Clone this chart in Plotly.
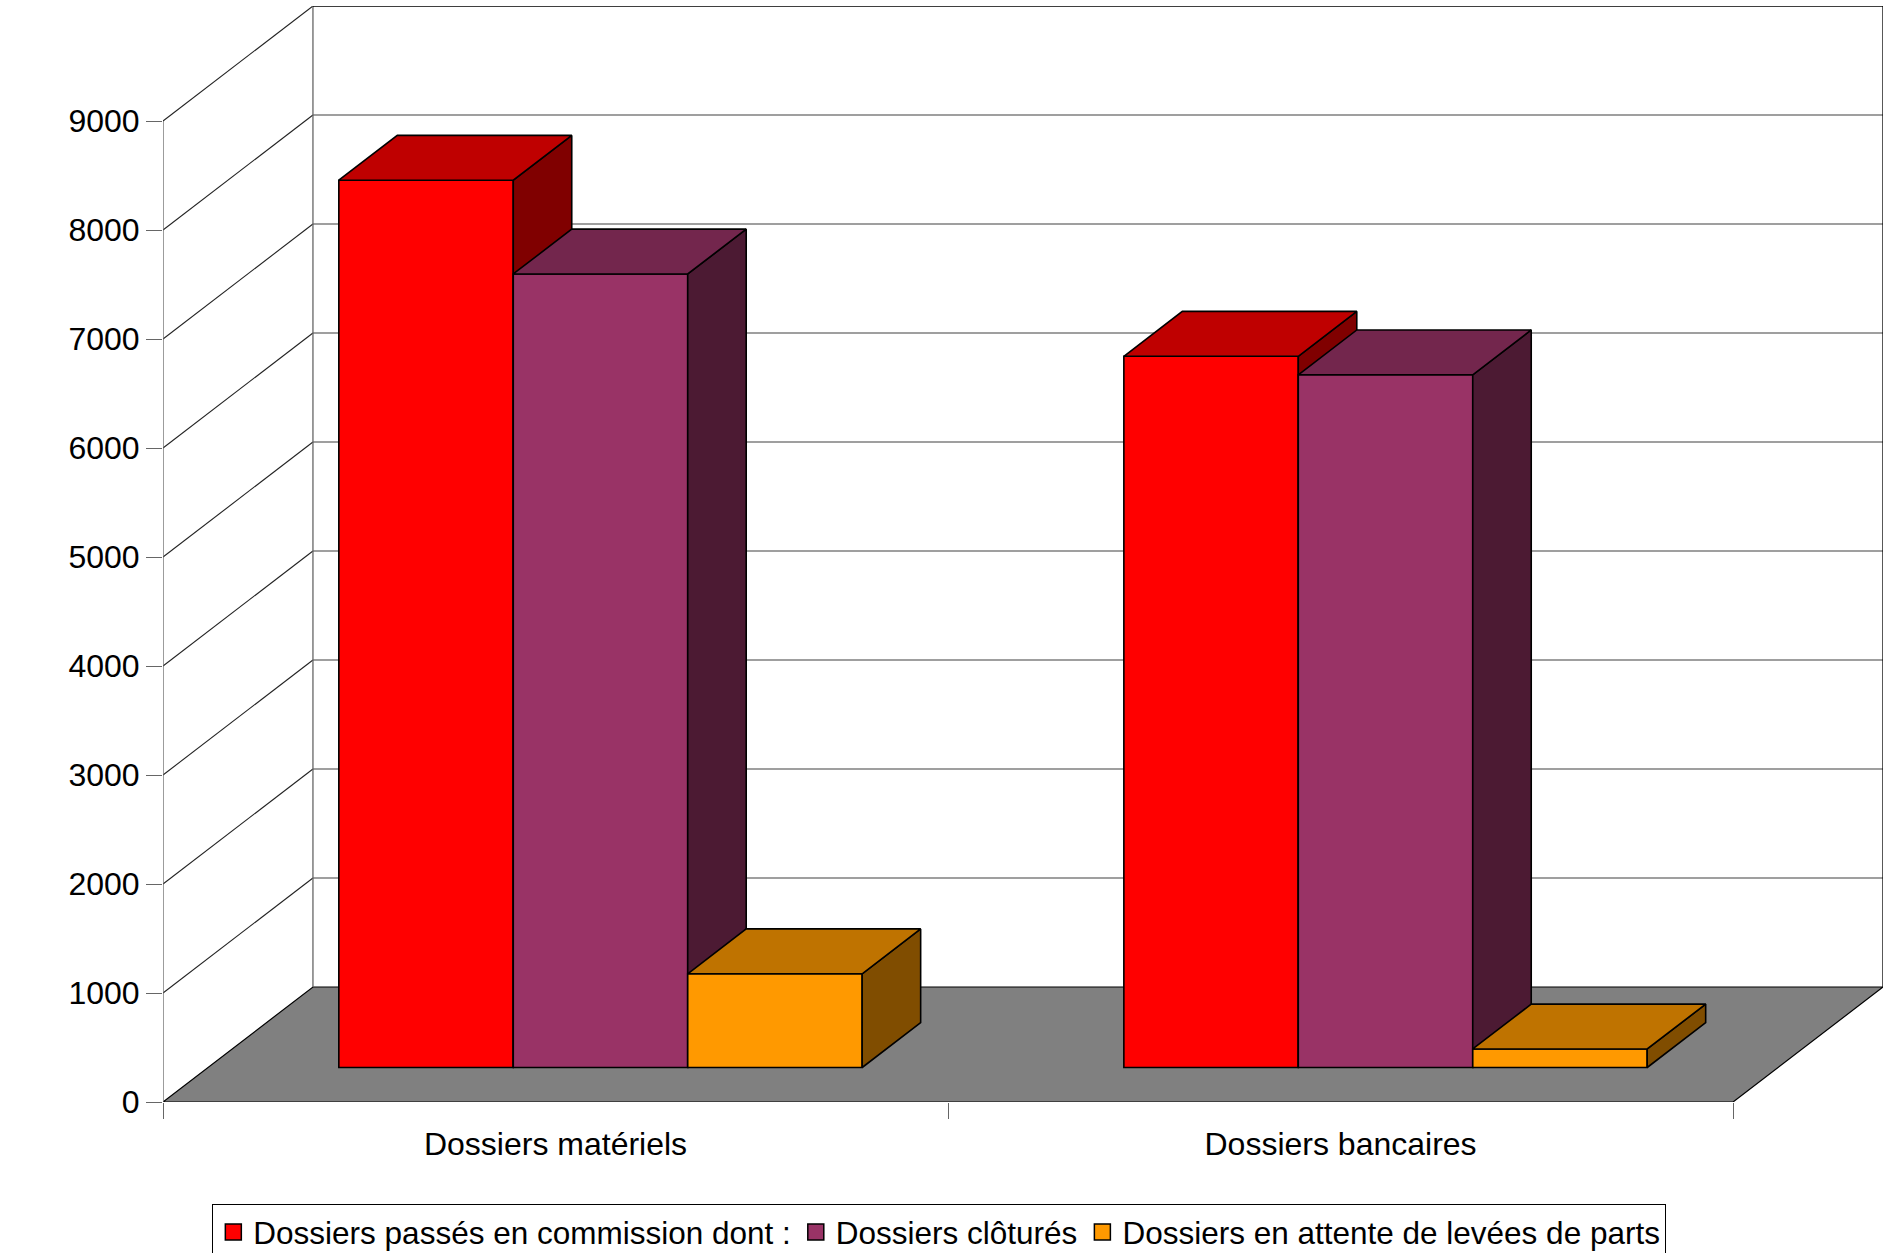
import plotly.graph_objects as go

# ---- data ----
categories = ["Dossiers matériels", "Dossiers bancaires"]
series_names = ["Dossiers passés en commission dont :", "Dossiers clôturés",
                "Dossiers en attente de levées de parts"]
passes = [8140, 6525]
clotures = [7280, 6355]
attente = [860, 170]
y_ticks = [0, 1000, 2000, 3000, 4000, 5000, 6000, 7000, 8000, 9000]

values = [passes, clotures, attente]
front_colors = ["#FF0000", "#993366", "#FF9900"]
top_colors = ["#BF0000", "#73264D", "#BF7300"]
side_colors = ["#800000", "#4C1A33", "#804D00"]

# ---- pseudo-3D geometry (in axis units) ----
DX = 150 / 785.3          # depth shift along x (category units)
DY = 1055                 # depth shift along y (value units)
YMAX = y_ticks[-1]
n_cat = len(categories)
n_ser = len(series_names)
group_w = 2 / 3
bar_w = group_w / n_ser
d0, d1 = 0.30, 0.69       # bar front / back depth fractions

fig = go.Figure()

# floor
fig.add_trace(go.Scatter(
    x=[0, n_cat, n_cat + DX, DX, 0], y=[0, 0, DY, DY, 0],
    mode="lines", fill="toself", fillcolor="#808080",
    line=dict(color="#000000", width=1.2), hoverinfo="skip", showlegend=False))

# back wall horizontal grid lines
gx, gy = [], []
for v in y_ticks[1:-1]:
    gx += [DX, n_cat + DX, None]
    gy += [v + DY, v + DY, None]
fig.add_trace(go.Scatter(x=gx, y=gy, mode="lines",
                         line=dict(color="#7f7f7f", width=1.3),
                         hoverinfo="skip", showlegend=False))
# side wall diagonal lines
sx, sy = [], []
for v in y_ticks[1:]:
    sx += [0, DX, None]
    sy += [v, v + DY, None]
fig.add_trace(go.Scatter(x=sx, y=sy, mode="lines",
                         line=dict(color="#222222", width=1.1),
                         hoverinfo="skip", showlegend=False))
# back wall left edge, front axis (gray)
fig.add_trace(go.Scatter(x=[DX, DX, None, 0, 0], y=[DY, YMAX + DY, None, 0, YMAX],
                         mode="lines", line=dict(color="#666666", width=1.3),
                         hoverinfo="skip", showlegend=False))
# top edge + right edge (black)
fig.add_trace(go.Scatter(x=[DX, n_cat + DX, n_cat + DX], y=[YMAX + DY, YMAX + DY, DY],
                         mode="lines", line=dict(color="#000000", width=1.3),
                         hoverinfo="skip", showlegend=False))

# bars
for s in range(n_ser):
    xs_front, bases = [], []
    for c in range(n_cat):
        xl = c + (1 - group_w) / 2 + s * bar_w + d0 * DX
        xs_front.append(xl + bar_w / 2)
        bases.append(d0 * DY)
    fig.add_trace(go.Bar(
        x=xs_front, y=values[s], base=bases, width=bar_w,
        name=series_names[s], showlegend=False,
        marker=dict(color=front_colors[s], line=dict(color="#000000", width=1.6)),
        zorder=s + 1))
    tx, ty, px, py = [], [], [], []
    dd = d1 - d0
    for c in range(n_cat):
        xl = c + (1 - group_w) / 2 + s * bar_w + d0 * DX
        xr = xl + bar_w
        b = d0 * DY
        t = b + values[s][c]
        tx += [xl, xr, xr + dd * DX, xl + dd * DX, xl, None]
        ty += [t, t, t + dd * DY, t + dd * DY, t, None]
        px += [xr, xr + dd * DX, xr + dd * DX, xr, xr, None]
        py += [b, b + dd * DY, t + dd * DY, t, b, None]
    fig.add_trace(go.Scatter(x=px, y=py, mode="lines", fill="toself",
                             fillcolor=side_colors[s],
                             line=dict(color="#000000", width=1.6),
                             hoverinfo="skip", showlegend=False, zorder=s + 1))
    fig.add_trace(go.Scatter(x=tx, y=ty, mode="lines", fill="toself",
                             fillcolor=top_colors[s],
                             line=dict(color="#000000", width=1.6),
                             hoverinfo="skip", showlegend=False, zorder=s + 1))

# legend entries (larger square keys)
for s in range(n_ser):
    fig.add_trace(go.Scatter(
        x=[None], y=[None], mode="markers", name=series_names[s],
        marker=dict(symbol="square", size=16, color=front_colors[s],
                    line=dict(color="#000000", width=1.5)),
        hoverinfo="skip", showlegend=True))

FONT = "Liberation Sans, Arial, sans-serif"
fig.update_layout(
    width=1890, height=1253,
    margin=dict(l=163, r=7, t=6, b=151),
    paper_bgcolor="white", plot_bgcolor="white",
    font=dict(family=FONT, size=32, color="#000000"),
    barmode="overlay",
    showlegend=True,
    legend=dict(orientation="h", xref="container", yref="container",
                x=0.497, xanchor="center", y=1 - 1204 / 1253, yanchor="top",
                bordercolor="#000000", borderwidth=1, itemwidth=30,
                font=dict(size=31.5), traceorder="normal"),
    xaxis=dict(range=[0, n_cat + DX], showgrid=False, zeroline=False, showline=False,
               tickmode="array", tickvals=[c + 0.5 for c in range(n_cat)],
               ticktext=categories, ticks="outside", ticklen=14,
               tickcolor="rgba(0,0,0,0)",
               minor=dict(tickmode="array", tickvals=list(range(n_cat + 1)),
                          ticks="outside", ticklen=16, tickcolor="#666666",
                          tickwidth=1.3, showgrid=False)),
    yaxis=dict(range=[0, YMAX + DY], showgrid=False, zeroline=False, showline=False,
               tickmode="array", tickvals=y_ticks, ticks="outside", ticklen=16,
               tickcolor="#666666", tickwidth=1.3),
    annotations=[dict(text="<b>Nombre de dossiers</b>", textangle=-90,
                      xref="x", yref="y", x=-136 / 785.3, y=YMAX / 2,
                      xanchor="center", yanchor="middle", showarrow=False,
                      font=dict(size=32))],
)

fig.write_html("out.html")
